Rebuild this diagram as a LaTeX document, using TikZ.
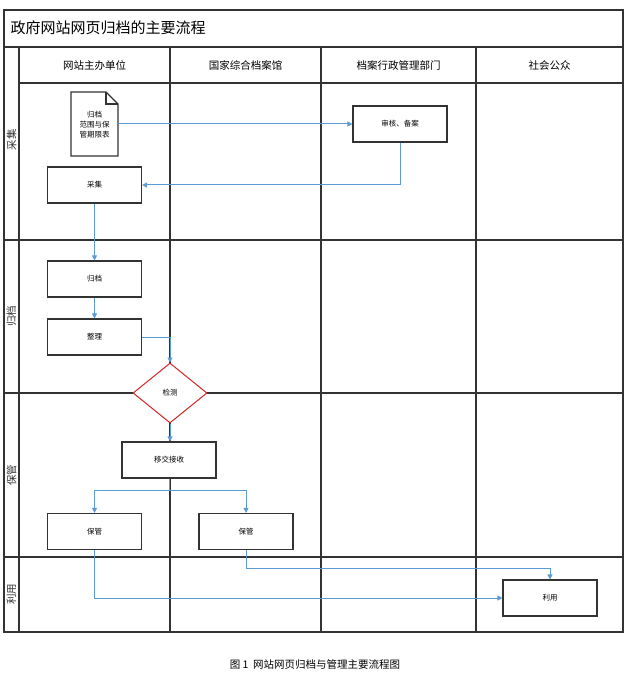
\documentclass[tikz,border=0pt]{standalone}
\usepackage{fontspec}
\setmainfont{Noto Sans CJK SC}
\usetikzlibrary{shapes.geometric,arrows.meta}
\definecolor{arr}{HTML}{5B9BD5}
\definecolor{frm}{HTML}{333333}
\begin{document}
\begin{tikzpicture}[x=1pt,y=-1pt,
  lane/.style={draw=frm,line width=1.1pt},
  box/.style={draw=frm,line width=1.1pt,fill=white,minimum width=94pt,minimum height=36pt,inner sep=0pt,font=\fontsize{7.5}{8}\selectfont},
  flow/.style={draw=arr,line width=1pt,-{Triangle[length=5pt,width=5pt]}},
  hdr/.style={font=\fontsize{10.5}{12}\selectfont},
  rl/.style={font=\fontsize{10.5}{12}\selectfont,rotate=90,text=frm}]
\useasboundingbox (0,0) rectangle (632,676);
% frame
\draw[lane] (4,10) rectangle (623,632);
\draw[lane] (4,47) -- (623,47);
\draw[lane] (19,83) -- (623,83);
\foreach \x in {19,170,321,476} \draw[lane] (\x,47) -- (\x,632);
\foreach \y in {240,393,557} \draw[lane] (4,\y) -- (623,\y);
\node[anchor=west,font=\fontsize{15}{17}\selectfont] (title) at (7,28) {政府网站网页归档的主要流程};
\node[hdr] (h1) at (94.5,65) {网站主办单位};
\node[hdr] (h2) at (245.5,65) {国家综合档案馆};
\node[hdr] (h3) at (398.5,65) {档案行政管理部门};
\node[hdr] (h4) at (549.5,65) {社会公众};
\node[rl] (r1) at (11.5,140) {采集};
\node[rl] (r2) at (11.5,316) {归档};
\node[rl] (r3) at (11.5,475) {保管};
\node[rl] (r4) at (11.5,594) {利用};
% document shape
\draw[lane,fill=white] (71,92) -- (106,92) -- (118,104) -- (118,156) -- (71,156) -- cycle;
\draw[lane] (106,92) -- (106,104) -- (118,104);
\node[align=center,font=\fontsize{7.5}{10}\selectfont,inner sep=0pt] (doc) at (94.5,125) {归档\\范围与保\\管期限表};
\coordinate (docr) at (118,124);
\node[box] (sh) at (400,124) {审核、备案};
\node[box] (cj) at (94.5,185) {采集};
\node[box] (gd) at (94.5,279) {归档};
\node[box] (zl) at (94.5,337) {整理};
\node[diamond,draw=red!80!black!85,line width=1pt,fill=white,minimum width=74pt,minimum height=60pt,inner sep=0pt,font=\fontsize{7.5}{8}\selectfont,aspect=1.25] (jc) at (170,393) {检测};
\node[box] (yj) at (169,460) {移交接收};
\node[box] (bg1) at (94.5,531.5) {保管};
\node[box] (bg2) at (246,531.5) {保管};
\node[box] (ly) at (550,598) {利用};
\node[font=\fontsize{10.5}{12}\selectfont] (cap) at (315,665) {图 1\ \ 网站网页归档与管理主要流程图};
% flows
\draw[flow] (docr) -- (sh.west);
\draw[flow] (sh.south) |- (cj.east);
\draw[flow] (cj) -- (gd);
\draw[flow] (gd) -- (zl);
\draw[flow] (zl.east) -| (jc.north);
\draw[flow] (jc.south) -- (jc.south |- yj.north);
\draw[flow] (yj.south) -- ++(0,12) -| (bg1.north);
\draw[flow] (yj.south) -- ++(0,12) -| (bg2.north);
\draw[flow] (bg1.south) |- (ly.west);
\draw[flow] (bg2.south) -- ++(0,18) -| (ly.north);
\end{tikzpicture}
\end{document}
